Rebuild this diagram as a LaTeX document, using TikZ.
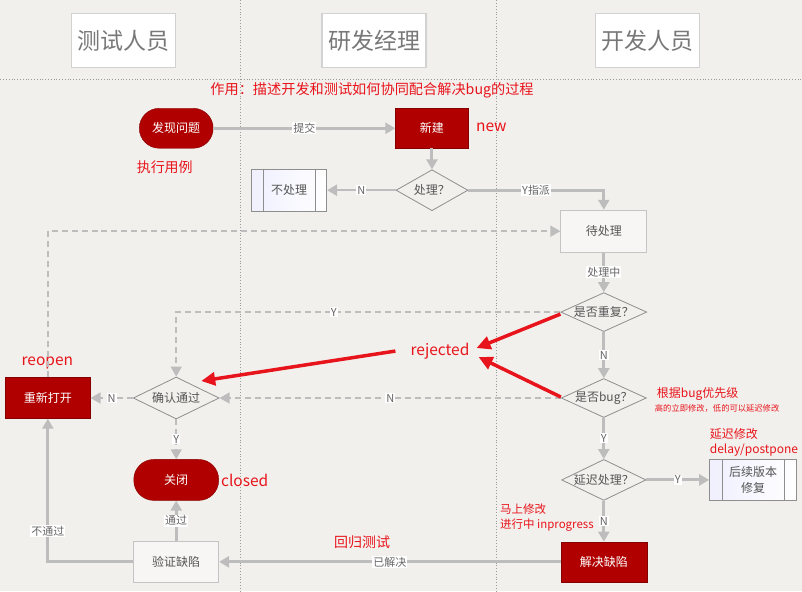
\documentclass[tikz,border=0pt]{standalone}
\usepackage{fontspec}
\setmainfont{Noto Sans CJK SC}
\usepackage{tikz}
\usetikzlibrary{arrows.meta,positioning,shapes.geometric}

\definecolor{paper}{HTML}{F2F0ED}
\definecolor{bugred}{HTML}{B00000}
\definecolor{notered}{HTML}{E8141B}
\definecolor{wire}{HTML}{BDBDBD}
\definecolor{ink}{HTML}{555555}
\definecolor{laneline}{HTML}{9A9A9A}
\definecolor{hdrline}{HTML}{D2D2D2}
\definecolor{hdrtext}{HTML}{787878}
\definecolor{boxline}{HTML}{C4C4C4}
\definecolor{sideline}{HTML}{8E8E8E}
\newcommand{\pxfont}[1]{\fontsize{#1}{#1}\selectfont}

\begin{document}
\begin{tikzpicture}[
  x=1pt, y=-1pt, on grid,
  hdr/.style={draw=hdrline, fill=white, line width=1.2pt, inner sep=0pt,
    minimum width=104pt, minimum height=54pt, text=hdrtext, font=\pxfont{23}},
  state/.style={draw=bugred!75!black, fill=bugred, text=white, inner sep=0pt,
    minimum width=86pt, minimum height=41pt, font=\pxfont{12}},
  term/.style={state, rounded corners=20pt},
  plain/.style={draw=boxline, fill=white!40!paper, line width=0.9pt, inner sep=0pt,
    minimum width=86pt, minimum height=41pt, text=ink, font=\pxfont{12}},
  subproc/.style={draw=sideline, line width=1pt, left color=black!4!blue!6!white, right color=white,
    inner sep=0pt, minimum width=75pt, minimum height=42pt, text=ink, align=center,
    font=\fontsize{12}{16}\selectfont},
  decide/.style={diamond, aspect=2.2, draw=sideline, line width=0.8pt, inner sep=0pt,
    text=ink, font=\pxfont{12}},
  lbl/.style={fill=white, inner sep=1pt, text=black!60, font=\pxfont{11}},
  note/.style={text=notered, inner sep=0pt, font=\pxfont{14}},
  flow/.style={draw=wire, line width=3pt, -{Triangle[length=10pt,width=11pt]}},
  dflow/.style={draw=wire, line width=1.6pt, dash pattern=on 6pt off 4pt,
    -{Triangle[length=10pt,width=11pt]}},
  hot/.style={draw=notered, line width=3.5pt, -{Triangle[length=14pt,width=13pt]}}
]
  % paper and swim lanes
  \fill[paper] (0,0) rectangle (802,591);
  \draw[laneline, dotted, line width=0.8pt] (0,79) -- (802,79);
  \draw[laneline, dotted, line width=0.8pt] (240,0) -- (240,591);
  \draw[laneline, dotted, line width=0.8pt] (496,0) -- (496,591);

  \node[hdr] (tester) at (123,40) {测试人员};
  \node[hdr, right=251pt of tester] (manager) {研发经理};
  \node[hdr, right=274pt of manager] (developer) {开发人员};
  \node[note, font=\pxfont{14.2}] (goal) at (372,90) {作用：描述开发和测试如何协同配合解决bug的过程};

  % flow
  \node[term, minimum width=74pt, minimum height=40pt] (find) at (176,128) {发现问题};
  \node[state, minimum width=73pt, minimum height=40pt, right=256pt of find] (new) {新建};
  \node[decide, minimum width=72pt, minimum height=41pt, below=62pt of new] (ask) {处理？};
  \node[subproc, left=143pt of ask] (skip) {不处理};
  \node[plain, below right=41pt and 172pt of ask, minimum height=42pt] (pending) {待处理};
  \node[decide, minimum width=86pt, minimum height=39pt, below=81pt of pending] (dup) {是否重复？};
  \node[decide, minimum width=84pt, minimum height=39pt, below=86pt of dup] (isbug) {是否bug？};
  \node[decide, minimum width=84pt, minimum height=41pt, below=82pt of isbug] (delay) {延迟处理？};
  \node[subproc, minimum width=87pt, minimum height=41pt, right=149.5pt of delay] (defer) {后续版本\\修复};
  \node[state, minimum height=40pt, below=82pt of delay] (fix) {解决缺陷};
  \node[plain, minimum width=85pt, left=428pt of fix] (verify) {验证缺陷};
  \node[term, minimum width=85pt, above=82pt of verify] (closed) {关闭};
  \node[decide, minimum width=86pt, minimum height=42pt, above=82pt of closed] (confirm) {确认通过};
  \node[state, minimum width=85pt, left=128.5pt of confirm] (reopen) {重新打开};

  \foreach \n/\d in {skip/12pt, defer/13pt} {
    \draw[sideline, line width=1pt] ([xshift=\d]\n.north west) -- ([xshift=\d]\n.south west);
    \draw[sideline, line width=1pt] ([xshift=-\d]\n.north east) -- ([xshift=-\d]\n.south east);
  }

  % notes in red
  \node[note, font=\pxfont{15.5}, anchor=west] (newtag) at (476,127) {new};
  \node[note] (runcase) at (164.5,167) {执行用例};
  \node[note, font=\pxfont{15.5}] (reopentag) at (47,363) {reopen};
  \node[note, font=\pxfont{15.5}] (closedtag) at (244.5,481) {closed};
  \node[note, font=\pxfont{15.5}] (rej) at (440,351) {rejected};
  \node[note] (retest) at (362,542) {回归测试};
  \node[note, font=\pxfont{12}, anchor=west] (prio) at (657,394) {根据bug优先级};
  \node[note, font=\pxfont{8.3}, anchor=west] (prionote) at (655,408) {高的立即修改，低的可以延迟修改};
  \node[note, font=\fontsize{12}{15}\selectfont, align=left, anchor=west] (postpone) at (710,442.5) {延迟修改\\delay/postpone};
  \node[note, font=\fontsize{11.5}{15}\selectfont, align=left, anchor=west] (inprog) at (500,517.5) {马上修改\\进行中 inprogress};

  % connectors
  \draw[flow] (find) -- node[lbl] {提交} (new);
  \draw[flow] (new) -- (ask);
  \draw[flow, line width=2.2pt] (ask) -- node[lbl] {N} (skip);
  \draw[flow] (ask.east) -| node[lbl, pos=0.25] {Y指派} (pending.north);
  \draw[flow] (pending) -- node[lbl] {处理中} (dup);
  \draw[flow] (dup) -- node[lbl] {N} (isbug);
  \draw[flow] (isbug) -- node[lbl] {Y} (delay);
  \draw[flow] (delay) -- node[lbl] {N} (fix);
  \draw[flow] (delay) -- node[lbl] {Y} (defer);
  \draw[flow] (fix) -- node[lbl] {已解决} (verify);
  \draw[flow] (verify) -- node[lbl] {通过} (closed);
  \draw[flow] (verify.west) -| node[lbl, pos=0.608] {不通过} (reopen.south);

  \draw[dflow] (reopen.north) |- (pending.west);
  \draw[dflow] (dup.west) -| node[lbl, pos=0.295] {Y} (confirm.north);
  \draw[dflow] (isbug.west) -- node[lbl] {N} (confirm.east);
  \draw[dflow] (confirm.west) -- node[lbl] {N} (reopen.east);
  \draw[dflow] (confirm.south) -- node[lbl] {Y} (closed.north);

  \draw[hot] ([yshift=-2pt]dup.west) -- ([shift={(7pt,3pt)}]rej.east);
  \draw[hot] ([yshift=1pt]isbug.west) -- ([shift={(9pt,-6pt)}]rej.east);
  \draw[hot] ([xshift=-15pt]rej.west) -- ([shift={(25pt,17pt)}]confirm.center);
\end{tikzpicture}
\end{document}
